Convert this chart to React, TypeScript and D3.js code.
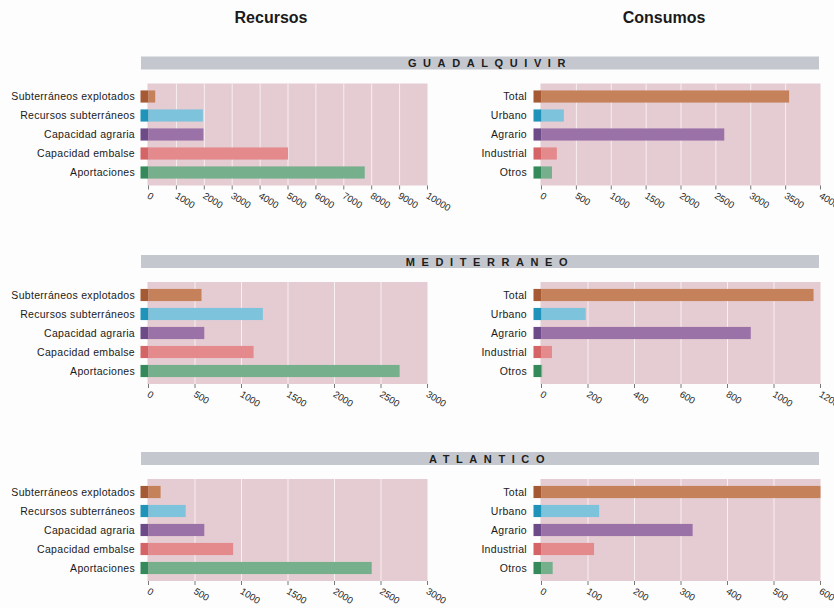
import React from "react";
import * as d3 from "d3";

const recursosCats = [
  "Subterráneos explotados",
  "Recursos subterráneos",
  "Capacidad agraria",
  "Capacidad embalse",
  "Aportaciones",
];
const consumosCats = ["Total", "Urbano", "Agrario", "Industrial", "Otros"];

const regions = ["GUADALQUIVIR", "MEDITERRANEO", "ATLANTICO"];

// Recursos per basin, same order as recursosCats
const recursosGuadalquivir = [240, 1950, 1970, 5000, 7750];
const recursosMediterraneo = [570, 1230, 600, 1130, 2700];
const recursosAtlantico = [130, 400, 600, 910, 2400];

// Consumos per basin, same order as consumosCats
const consumosGuadalquivir = [3550, 320, 2620, 220, 150];
const consumosMediterraneo = [1170, 190, 900, 45, 3];
const consumosAtlantico = [600, 124, 325, 113, 24];

const recursosMax = [10000, 3000, 3000];
const consumosMax = [4000, 1200, 600];
const recursosStep = [1000, 500, 500];
const consumosStep = [500, 200, 100];

const barLight = ["#c5825a", "#7ec3dc", "#9a72a8", "#e48a8c", "#76af8c"];
const barDark = ["#a65a34", "#1f93ba", "#6c4b88", "#d56466", "#358a5b"];

const font = "'Liberation Sans', Arial, Helvetica, sans-serif";

type PanelProps = {
  x0: number;
  x1: number;
  labelX: number;
  top: number;
  cats: string[];
  values: number[];
  max: number;
  step: number;
};

function Panel({ x0, x1, labelX, top, cats, values, max, step }: PanelProps) {
  const x = d3.scaleLinear().domain([0, max]).range([x0, x1]);
  const plotTop = top + 27;
  const plotBottom = top + 129;
  const y = d3
    .scaleBand<string>()
    .domain(cats)
    .range([plotTop + 3.5, plotTop + 3.5 + 19 * cats.length])
    .paddingInner(0.36)
    .paddingOuter(0.18);
  const ticks = d3.range(0, max + step / 2, step);
  return (
    <g>
      <rect
        x={x0 - 1}
        y={plotTop}
        width={x1 - x0 + 1}
        height={plotBottom - plotTop}
        fill="#e5cbd2"
      />
      {ticks.slice(1, -1).map((t) => (
        <line
          key={"g" + t}
          x1={x(t)}
          x2={x(t)}
          y1={plotTop}
          y2={plotBottom}
          stroke="#ffffff"
          strokeOpacity={0.7}
          strokeWidth={1}
        />
      ))}
      {cats.map((c, i) => {
        const by = y(c) as number;
        const bh = y.bandwidth();
        return (
          <g key={c}>
            <rect x={x0 - 8} y={by} width={8} height={bh} fill={barDark[i]} />
            <rect
              x={x0}
              y={by}
              width={Math.max(0, x(values[i]) - x0)}
              height={bh}
              fill={barLight[i]}
            />
            <text
              x={labelX}
              y={by + bh / 2}
              dy="0.35em"
              textAnchor="end"
              fontSize={10.5}
              letterSpacing={0.3}
              fontFamily={font}
              fill="#1a1a1a"
            >
              {c}
            </text>
          </g>
        );
      })}
      {ticks.map((t) => (
        <g key={"t" + t}>
          <line
            x1={x(t)}
            x2={x(t)}
            y1={plotBottom}
            y2={plotBottom + 4}
            stroke="#555"
            strokeWidth={0.8}
          />
          <text
            transform={`translate(${x(t) - 2},${plotBottom + 12}) rotate(32)`}
            fontSize={9.5}
            fontFamily={font}
            fill="#222"
          >
            {t}
          </text>
        </g>
      ))}
    </g>
  );
}

export default function App() {
  const tops = [56.5, 255, 452];
  const recursos = [recursosGuadalquivir, recursosMediterraneo, recursosAtlantico];
  const consumos = [consumosGuadalquivir, consumosMediterraneo, consumosAtlantico];
  return (
    <svg
      width={834}
      height={608}
      style={{ position: "absolute", left: 0, top: 0, background: "#ffffff" }}
    >
      <rect width={834} height={608} fill="#fdfdfd" />
      <text
        x={271}
        y={23}
        textAnchor="middle"
        fontSize={16}
        fontWeight="bold"
        fontFamily={font}
        fill="#1a1a1a"
      >
        Recursos
      </text>
      <text
        x={664}
        y={23}
        textAnchor="middle"
        fontSize={16}
        fontWeight="bold"
        fontFamily={font}
        fill="#1a1a1a"
      >
        Consumos
      </text>
      {regions.map((r, i) => {
        const top = tops[i];
        return (
          <g key={r}>
            <rect x={141} y={top} width={678} height={13} fill="#c4c8ce" />
            <text
              x={490}
              y={top + 10.5}
              textAnchor="middle"
              fontSize={11}
              fontWeight="bold"
              fontFamily={font}
              letterSpacing={6.6}
              fill="#1d1d1d"
            >
              {r}
            </text>
            <Panel
              x0={148.5}
              x1={427.5}
              labelX={135}
              top={top}
              cats={recursosCats}
              values={recursos[i]}
              max={recursosMax[i]}
              step={recursosStep[i]}
            />
            <Panel
              x0={541.5}
              x1={820.5}
              labelX={527}
              top={top}
              cats={consumosCats}
              values={consumos[i]}
              max={consumosMax[i]}
              step={consumosStep[i]}
            />
          </g>
        );
      })}
    </svg>
  );
}
